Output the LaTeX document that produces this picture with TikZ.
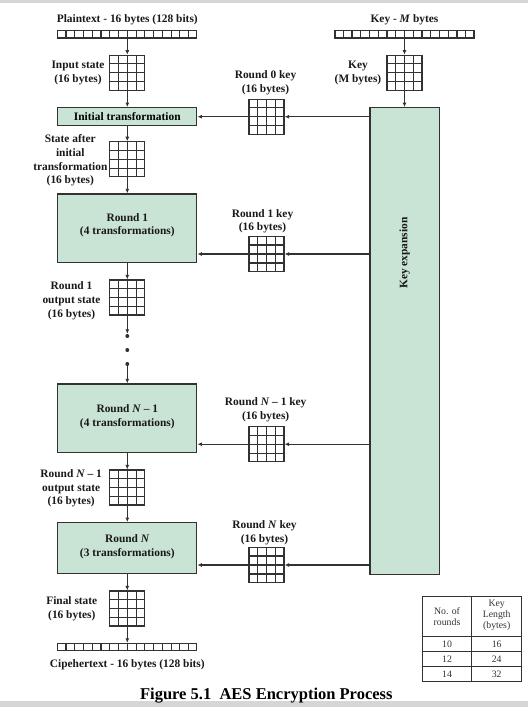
\documentclass[tikz,border=0pt]{standalone}
\usepackage{fontspec}
\setmainfont{Liberation Serif}
\usetikzlibrary{arrows.meta,calc}
\definecolor{boxgreen}{RGB}{201,228,212}
\definecolor{linec}{RGB}{50,50,50}
\definecolor{bandgray}{RGB}{214,214,214}
\begin{document}
\begin{tikzpicture}[x=1pt,y=-1pt,
  lab/.style={font=\fontsize{11.4}{13.8}\selectfont\bfseries, align=center, inner sep=0, text=black!90},
  grid4/.style={draw=linec, line width=1.2pt, minimum width=35pt, minimum height=35pt, inner sep=0},
  bytebar/.style={draw=linec, line width=1.1pt, minimum width=139pt, minimum height=7.3pt, inner sep=0},
  cellline/.style={draw=linec, line width=1.2pt},
  gbox/.style={draw=linec, line width=1.3pt, fill=boxgreen, inner sep=0},
  arr/.style={draw=linec, line width=1.1pt, -{Latex[length=4.5pt,width=4pt]}},
  dot/.style={circle, fill=linec, inner sep=0, minimum size=4pt},
  ttxt/.style={font=\fontsize{9.8}{11}\selectfont, text=black!80, align=center, inner sep=0},
]
\useasboundingbox (0,0) rectangle (528,707);
\fill[bandgray] (0,0) rectangle (528,3);
\fill[bandgray] (0,700.7) rectangle (528,707);

% left column
\node[lab, anchor=base] (ptl) at (127.3,22) {Plaintext - 16 bytes (128 bits)};
\node[bytebar] (ptb) at (127.3,34.3) {};
\node[grid4] (ins) at (127.3,72.8) {};
\node[lab] (insl) at (78,72.8) {Input state\\(16 bytes)};
\node[gbox, minimum width=139pt, minimum height=18pt, font=\fontsize{11.4}{13.8}\selectfont\bfseries] (init) at (127.3,116.7) {Initial transformation};
\node[grid4] (sa) at (127.3,159.3) {};
\node[lab] (sal) at (70.3,160.5) {State after\\initial\\transformation\\(16 bytes)};
\node[gbox, minimum width=139pt, minimum height=68.7pt] (r1) at (127.3,228.3) {};
\node[lab] (r1t) at (127.3,225.3) {Round 1\\(4 transformations)};
\node[grid4] (r1o) at (127.3,297.5) {};
\node[lab] (r1ol) at (71.5,300.5) {Round 1\\output state\\(16 bytes)};
\node[dot] (d1) at (127.3,336) {};
\node[dot] (d2) at (127.3,350) {};
\node[dot] (d3) at (127.3,364) {};
\node[gbox, minimum width=139pt, minimum height=68.7pt] (rn1) at (127.3,418.3) {};
\node[lab] (rn1t) at (127.3,416.8) {Round \textit{N} -- 1\\(4 transformations)};
\node[grid4] (rn1o) at (127.3,487.5) {};
\node[lab] (rn1ol) at (71.2,488.3) {Round \textit{N} -- 1\\output state\\(16 bytes)};
\node[gbox, minimum width=139pt, minimum height=50.6pt] (rn) at (127.3,548) {};
\node[lab] (rnt) at (127.3,546.8) {Round \textit{N}\\(3 transformations)};
\node[grid4] (fs) at (127.3,608.5) {};
\node[lab] (fsl) at (71.8,609) {Final state\\(16 bytes)};
\node[bytebar] (ctb) at (127.3,647) {};
\node[lab, anchor=base] (ctl) at (127.3,667.3) {Cipehertext - 16 bytes (128 bits)};

% round keys
\node[grid4] (k0) at (266.5,116.7) {};
\node[lab] (k0l) at (265.5,83) {Round 0 key\\(16 bytes)};
\node[grid4] (k1) at (266.5,254) {};
\node[lab] (k1l) at (262.5,221.3) {Round 1 key\\(16 bytes)};
\node[grid4] (kn1) at (266.5,444.2) {};
\node[lab] (kn1l) at (265.7,409.7) {Round \textit{N} -- 1 key\\(16 bytes)};
\node[grid4] (kn) at (266.5,565) {};
\node[lab] (knl) at (264.5,533) {Round \textit{N} key\\(16 bytes)};

% key column
\node[lab, anchor=base] (kl) at (404.5,22) {Key - \textit{M} bytes};
\node[bytebar] (kb) at (404.5,34.3) {};
\node[grid4] (kg) at (404.5,72.8) {};
\node[lab] (kgl) at (358,72.8) {Key\\(M bytes)};
\node[gbox, minimum width=69.5pt, minimum height=466.6pt] (kexp) at (404.6,341) {};
\node[lab, rotate=90] (kexpt) at (404.6,253) {Key expansion};

% cell lines of the 4x4 states
\foreach \g in {ins,sa,r1o,rn1o,fs,k0,k1,kn1,kn,kg}{
  \foreach \k in {1,2,3}{
    \draw[cellline] ($(\g.north west)!\k/4!(\g.north east)$) -- ($(\g.south west)!\k/4!(\g.south east)$);
    \draw[cellline] ($(\g.north west)!\k/4!(\g.south west)$) -- ($(\g.north east)!\k/4!(\g.south east)$);
  }
}
% cell lines of the byte rows
\foreach \g in {ptb,ctb,kb}{
  \foreach \k in {1,...,15}{
    \draw[draw=linec, line width=1.1pt] ($(\g.north west)!\k/16!(\g.north east)$) -- ($(\g.south west)!\k/16!(\g.south east)$);
  }
}

% connectors
\draw[arr] (ptb) -- (ins);
\draw[arr] (ins) -- (init);
\draw[arr] (init) -- (sa);
\draw[arr] (sa) -- (r1);
\draw[arr] (r1) -- (r1o);
\draw[arr] (r1o) -- (d1.north);
\draw[arr] (d3) -- (rn1);
\draw[arr] (rn1) -- (rn1o);
\draw[arr] (rn1o) -- (rn);
\draw[arr] (rn) -- (fs);
\draw[arr] (fs) -- (ctb);

\draw[arr] (kb) -- (kg);
\draw[arr] (kg) -- (kg |- kexp.north);

\draw[arr] (kexp.west |- k0) -- (k0);
\draw[arr] (k0) -- (k0 -| init.east);
\draw[arr] (kexp.west |- k1) -- (k1);
\draw[arr] (k1) -- (k1 -| r1.east);
\draw[arr] (kexp.west |- kn1) -- (kn1);
\draw[arr] (kn1) -- (kn1 -| rn1.east);
\draw[arr] (kexp.west |- kn) -- (kn);
\draw[arr] (kn) -- (kn -| rn.east);

% table
\node[draw=linec, line width=1pt, minimum width=99.4pt, minimum height=85.7pt, inner sep=0] (tab) at (472,638.85) {};
\draw[linec, line width=1pt] (471.7,596) -- (471.7,681.7);
\draw[linec, line width=1pt] (422.3,636.7) -- (521.7,636.7);
\draw[linec, line width=1pt] (422.3,651.7) -- (521.7,651.7);
\draw[linec, line width=1pt] (422.3,666.7) -- (521.7,666.7);
\node[ttxt] (th1) at (447,617) {No. of\\rounds};
\node[ttxt] (th2) at (496.7,615.5) {Key\\Length\\(bytes)};
\node[ttxt] (t11) at (447,644.2) {10};
\node[ttxt] (t12) at (496.7,644.2) {16};
\node[ttxt] (t21) at (447,659.2) {12};
\node[ttxt] (t22) at (496.7,659.2) {24};
\node[ttxt] (t31) at (447,674.2) {14};
\node[ttxt] (t32) at (496.7,674.2) {32};

% caption
\node[font=\fontsize{16.5}{18}\selectfont\bfseries, anchor=base, inner sep=0] (cap) at (266.3,699.3) {Figure 5.1\ \ AES Encryption Process};
\end{tikzpicture}
\end{document}
